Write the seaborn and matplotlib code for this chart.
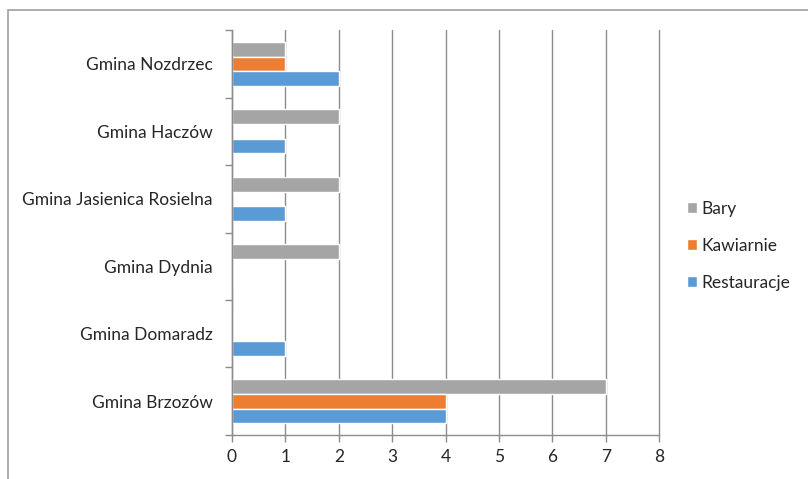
import pandas as pd
import seaborn as sns
import matplotlib.pyplot as plt
from matplotlib.patches import Rectangle

gminy = ["Gmina Nozdrzec", "Gmina Haczów", "Gmina Jasienica Rosielna",
         "Gmina Dydnia", "Gmina Domaradz", "Gmina Brzozów"]
bary = [1, 2, 2, 2, 0, 7]
kawiarnie = [1, 0, 0, 0, 0, 4]
restauracje = [2, 1, 1, 0, 1, 4]

series = ["Bary", "Kawiarnie", "Restauracje"]
colors = ["#A5A5A5", "#ED7D31", "#5B9BD5"]

df = pd.DataFrame({"Gmina": gminy, "Bary": bary,
                   "Kawiarnie": kawiarnie, "Restauracje": restauracje})
long = df.melt(id_vars="Gmina", var_name="Typ", value_name="Liczba")

sns.set_style("white")
plt.rcParams['font.family'] = ['Lato', 'DejaVu Sans']

fig = plt.figure(figsize=(8.08, 4.79), dpi=100)
ax = fig.add_axes([0.287, 0.092, 0.529, 0.845])

sns.barplot(data=long, y="Gmina", x="Liczba", hue="Typ", order=gminy,
            hue_order=series, palette=colors, orient="h", width=0.65,
            saturation=1, ax=ax)

ax.set_xlim(0, 8)
ax.set_xticks(range(0, 9))
ax.set_ylim(len(gminy) - 0.5, -0.5)
ax.set_xlabel("")
ax.set_ylabel("")
ax.grid(axis="x", color="#8c8c8c", linewidth=1)
for gl in ax.get_xgridlines():
    gl.set_clip_on(False)
ax.set_axisbelow(True)
for s in ["top", "right"]:
    ax.spines[s].set_visible(False)
for s in ["left", "bottom"]:
    ax.spines[s].set_color("#8c8c8c")
    ax.spines[s].set_linewidth(1)

ax.set_yticks([i - 0.5 for i in range(len(gminy) + 1)], minor=True)
ax.tick_params(axis="y", which="major", length=0, pad=14, labelsize=12.5,
               labelcolor="#262626")
ax.tick_params(axis="y", which="minor", length=5, color="#8c8c8c", width=1)
ax.tick_params(axis="x", which="major", length=5, color="#8c8c8c", width=1,
               labelsize=12.5, labelcolor="#262626", pad=5)
ax.xaxis.set_tick_params(bottom=True)
ax.yaxis.set_tick_params(left=True, which="minor")

sns.move_legend(ax, "center left", bbox_to_anchor=(1.028, 0.467), frameon=False,
                title=None, fontsize=12.5, handlelength=0.6, handleheight=0.6,
                handletextpad=0.25, labelspacing=1.2)
for t in ax.get_legend().get_texts():
    t.set_color("#262626")

fig.patches.append(Rectangle((8 / 808, -0.05), 1.1, 1.05 - 10 / 479,
                             transform=fig.transFigure, fill=False,
                             edgecolor="#a0a0a0", linewidth=1.2))

plt.savefig("out.png", dpi=100)
